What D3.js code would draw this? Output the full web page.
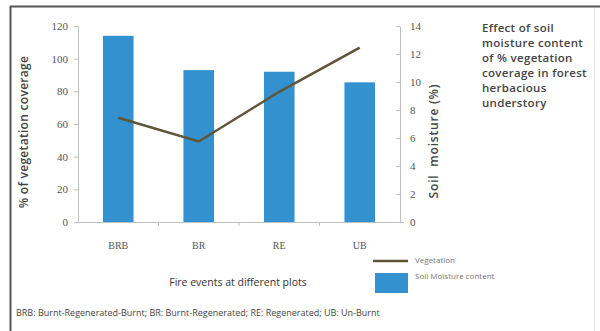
<!DOCTYPE html>
<html>
<head>
<meta charset="utf-8">
<script src="https://cdn.jsdelivr.net/npm/d3@7"></script>
<style>
  html, body { margin: 0; padding: 0; background: #fff; }
  svg { display: block; }
</style>
</head>
<body>
<svg id="chart" width="600" height="331"></svg>
<script>
// ---- data ----
const categories = ["BRB", "BR", "RE", "UB"];
const barValues = [114, 93, 92, 85.5];          // bars (left axis, 0–120)
const lineValues = [7.45, 5.75, 9.3, 12.45];      // line (right axis, 0–14)
const leftTicks = [0, 20, 40, 60, 80, 100, 120];
const rightTicks = [0, 2, 4, 6, 8, 10, 12, 14];
const legendLabels = ["Vegetation", "Soil Moisture content"];
const titleLines = ["Effect of soil", "moisture content", "of % vegetation", "coverage in forest", "herbacious", "understory"];
const footnote = "BRB: Burnt-Regenerated-Burnt; BR: Burnt-Regenerated; RE: Regenerated; UB: Un-Burnt";

const svg = d3.select("#chart");
const barColor = "#3391cf";
const lineColor = "#5e5638";
const axisColor = "#bfbfbf";
const serif = "'Liberation Serif', 'DejaVu Serif', serif";
const sans = "'Open Sans', 'Liberation Sans', sans-serif";

// frame
svg.append("rect").attr("x", 0).attr("y", 0).attr("width", 600).attr("height", 331).attr("fill", "#fff");
svg.append("line").attr("x1", 10).attr("x2", 600).attr("y1", 6.5).attr("y2", 6.5).attr("stroke", "#555").attr("stroke-width", 2);
svg.append("line").attr("x1", 10.5).attr("x2", 10.5).attr("y1", 6).attr("y2", 331).attr("stroke", "#555").attr("stroke-width", 2);
svg.append("line").attr("x1", 594.5).attr("x2", 594.5).attr("y1", 8).attr("y2", 331).attr("stroke", "#e4e4e4").attr("stroke-width", 1);

const x0 = 78, x1 = 400, yTop = 26, yBot = 222;
const x = d3.scaleBand().domain(categories).range([x0, x1]).paddingInner(0.62).paddingOuter(0.31);
const yL = d3.scaleLinear().domain([0, 120]).range([yBot, yTop]);
const yR = d3.scaleLinear().domain([0, 14]).range([yBot, yTop]);

// bars
svg.append("g").selectAll("rect").data(categories).join("rect")
  .attr("x", d => x(d))
  .attr("width", x.bandwidth())
  .attr("y", (d, i) => yL(barValues[i]))
  .attr("height", (d, i) => yBot - yL(barValues[i]))
  .attr("fill", barColor);

// left axis
const gL = svg.append("g").attr("transform", `translate(${x0},0)`)
  .call(d3.axisLeft(yL).tickValues(leftTicks).tickSize(4).tickPadding(6));
gL.select(".domain").attr("stroke", axisColor);
gL.selectAll(".tick line").attr("stroke", axisColor);
gL.selectAll("text").attr("font-family", serif).attr("font-size", 11).attr("fill", "#555");

// right axis
const gR = svg.append("g").attr("transform", `translate(${x1},0)`)
  .call(d3.axisRight(yR).tickValues(rightTicks).tickSize(0).tickPadding(10));
gR.select(".domain").attr("stroke", axisColor);
gR.selectAll(".tick").append("line").attr("x1", -4).attr("x2", 0).attr("stroke", axisColor);
gR.selectAll("text").attr("font-family", serif).attr("font-size", 11).attr("fill", "#555");

// bottom axis
const gB = svg.append("g").attr("transform", `translate(0,${yBot})`)
  .call(d3.axisBottom(x).tickSize(0).tickPadding(20));
gB.select(".domain").attr("stroke", axisColor).attr("d", `M${x0},0.5H${x1 + 4}`);
gB.selectAll("text").attr("font-family", serif).attr("font-size", 10).attr("fill", "#555");
const step = x.step();
svg.append("g").selectAll("line").data(categories.slice(0, -1)).join("line")
  .attr("x1", d => x(d) + x.bandwidth() / 2 + step / 2)
  .attr("x2", d => x(d) + x.bandwidth() / 2 + step / 2)
  .attr("y1", yBot).attr("y2", yBot + 4).attr("stroke", axisColor);

// line
const line = d3.line().x((d, i) => x(categories[i]) + x.bandwidth() / 2).y(d => yR(d));
svg.append("path").datum(lineValues).attr("d", line)
  .attr("fill", "none").attr("stroke", lineColor).attr("stroke-width", 2.5);

// axis titles
svg.append("text").attr("transform", `translate(28,132) rotate(-90)`).attr("text-anchor", "middle")
  .attr("font-family", sans).attr("font-size", 12).attr("font-weight", 600).attr("fill", "#444")
  .attr("letter-spacing", 0.3)
  .text("% of vegetation coverage");
svg.append("text").attr("transform", `translate(438,141) rotate(-90)`).attr("text-anchor", "middle")
  .attr("font-family", sans).attr("font-size", 12).attr("font-weight", 600).attr("fill", "#444")
  .attr("letter-spacing", 0.8).attr("xml:space", "preserve").style("white-space", "pre")
  .text("Soil  moisture (%)");
svg.append("text").attr("x", 238).attr("y", 286).attr("text-anchor", "middle")
  .attr("font-family", sans).attr("font-size", 10.5).attr("fill", "#333")
  .text("Fire events at different plots");

// title block
svg.append("g").selectAll("text").data(titleLines).join("text")
  .attr("x", 482).attr("y", (d, i) => 32 + i * 15)
  .attr("font-family", sans).attr("font-size", 11.5).attr("font-weight", 600).attr("fill", "#444")
  .attr("letter-spacing", 0.3)
  .text(d => d);

// legend
svg.append("line").attr("x1", 373).attr("x2", 408).attr("y1", 261).attr("y2", 261)
  .attr("stroke", lineColor).attr("stroke-width", 2.5);
svg.append("rect").attr("x", 375).attr("y", 273).attr("width", 33).attr("height", 20).attr("fill", barColor);
svg.append("g").selectAll("text").data(legendLabels).join("text")
  .attr("x", 415).attr("y", (d, i) => 263 + i * 16)
  .attr("font-family", sans).attr("font-size", 8).attr("fill", "#777")
  .text(d => d);

// footnote
svg.append("text").attr("x", 16).attr("y", 316)
  .attr("font-family", sans).attr("font-size", 9).attr("fill", "#444")
  .text(footnote);
</script>
</body>
</html>
